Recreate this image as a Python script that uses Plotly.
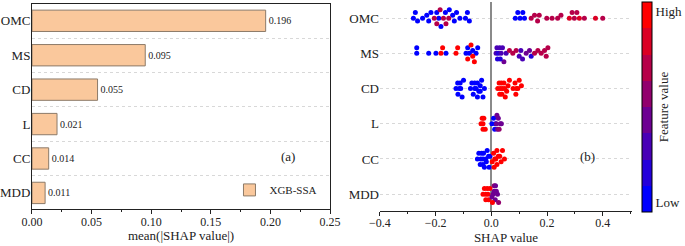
import plotly.graph_objects as go

# ---------------- data ----------------
features = ["MDD", "CC", "L", "CD", "MS", "OMC"]          # bottom -> top
mean_abs_shap = [0.011, 0.014, 0.021, 0.055, 0.095, 0.196]
bar_labels = ["0.011", "0.014", "0.021", "0.055", "0.095", "0.196"]
x1_ticks = [0.00, 0.05, 0.10, 0.15, 0.20, 0.25]
x2_ticks = [-0.4, -0.2, 0.0, 0.2, 0.4]

omc_shap = [-0.280, -0.273, -0.265, -0.247, -0.232, -0.225, -0.217, -0.196, -0.189, -0.181,
            -0.165, -0.151, -0.139, -0.133, -0.125, -0.113, -0.093, -0.086, -0.079,
            -0.205, -0.196, -0.184, -0.172, -0.163, -0.153,
            0.086, 0.095, 0.103, 0.113, 0.119,
            0.143, 0.155, 0.166, 0.172, 0.199, 0.218, 0.238, 0.250, 0.280, 0.290,
            0.298, 0.307, 0.316, 0.334, 0.374, 0.400]
omc_feat = [0.02, 0.02, 0.02, 0.02, 0.02, 0.02, 0.02, 0.02, 0.02, 0.02,
            0.02, 0.02, 0.02, 0.02, 0.02, 0.02, 0.02, 0.02, 0.02,
            0.72, 0.72, 0.72, 0.72, 0.72, 0.72,
            0.05, 0.05, 0.05, 0.05, 0.05,
            0.68, 0.72, 0.70, 0.72, 0.72, 0.70, 0.72, 0.70, 0.75, 0.72,
            0.70, 0.72, 0.75, 0.70, 0.78, 0.72]

ms_shap = [-0.268, -0.268, -0.225, -0.199, -0.163, -0.091, -0.085, -0.079, -0.067, -0.055, -0.049,
           -0.181, -0.175, -0.127, -0.121, -0.085, -0.073, -0.067, -0.061,
           0.017, 0.020, 0.025, 0.030, 0.035, 0.040, 0.045, 0.053, 0.022, 0.032,
           0.065, 0.077, 0.089,
           0.100, 0.106, 0.112, 0.125, 0.137, 0.143,
           0.155, 0.167, 0.179, 0.191, 0.197, 0.203]
ms_feat = [0.02, 0.02, 0.02, 0.02, 0.02, 0.02, 0.02, 0.02, 0.02, 0.02, 0.02,
           0.97, 0.97, 0.97, 0.97, 0.97, 0.97, 0.97, 0.97,
           0.25, 0.30, 0.20, 0.35, 0.30, 0.25, 0.40, 0.30, 0.20, 0.15,
           0.70, 0.65, 0.70,
           0.30, 0.25, 0.35, 0.45, 0.40, 0.20,
           0.70, 0.72, 0.70, 0.72, 0.70, 0.72]

cd_shap = [-0.127, -0.121, -0.115, -0.110, -0.105, -0.100, -0.120, -0.112,
           -0.075, -0.070, -0.065, -0.060, -0.055, -0.050, -0.045, -0.040, -0.035, -0.030,
           -0.025, -0.060, -0.050, -0.040,
           0.023, 0.028, 0.032, 0.036, 0.040, 0.045, 0.050, 0.055, 0.060, 0.065,
           0.030, 0.038, 0.048, 0.078, 0.085, 0.090, 0.095, 0.100, 0.108, 0.088]
cd_feat = [0.02, 0.02, 0.02, 0.02, 0.02, 0.02, 0.02, 0.02,
           0.02, 0.02, 0.02, 0.02, 0.02, 0.02, 0.02, 0.02, 0.02, 0.02,
           0.02, 0.02, 0.02, 0.02,
           0.97, 0.97, 0.97, 0.97, 0.97, 0.97, 0.97, 0.97, 0.97, 0.97,
           0.97, 0.97, 0.97, 0.97, 0.97, 0.97, 0.97, 0.97, 0.97, 0.97]

l_shap = [-0.037, -0.033, -0.030, -0.027, -0.022, -0.030,
          0.002, 0.008, 0.012, 0.015,
          0.018, 0.022, 0.025, 0.028, 0.032, 0.036, 0.020]
l_feat = [0.97, 0.97, 0.97, 0.97, 0.97, 0.97,
          0.02, 0.02, 0.02, 0.05,
          0.40, 0.45, 0.40, 0.50, 0.45, 0.40, 0.45]

cc_shap = [-0.050, -0.045, -0.040, -0.035, -0.030, -0.025, -0.020, -0.015, -0.010, -0.005,
           -0.038, -0.028, -0.018, -0.008, -0.030,
           0.003, 0.008, 0.012, 0.016, 0.020, 0.025, 0.030, 0.035, 0.040, 0.047, 0.010, 0.020]
cc_feat = [0.02, 0.02, 0.02, 0.02, 0.02, 0.02, 0.02, 0.02, 0.02, 0.02,
           0.02, 0.02, 0.02, 0.02, 0.02,
           0.97, 0.97, 0.97, 0.97, 0.97, 0.97, 0.97, 0.97, 0.97, 0.97, 0.97, 0.97]

mdd_shap = [-0.030, -0.025, -0.020, -0.015, -0.010, -0.005, -0.020, -0.012,
            0.002, 0.006, 0.010, 0.014, 0.018, 0.022, 0.026, 0.010, 0.015, 0.004]
mdd_feat = [0.97, 0.97, 0.97, 0.97, 0.97, 0.97, 0.97, 0.97,
            0.45, 0.40, 0.50, 0.45, 0.40, 0.45, 0.50, 0.40, 0.45, 0.90]

swarm = {"MDD": (mdd_shap, mdd_feat), "CC": (cc_shap, cc_feat), "L": (l_shap, l_feat),
         "CD": (cd_shap, cd_feat), "MS": (ms_shap, ms_feat), "OMC": (omc_shap, omc_feat)}

# ---------------- beeswarm layout (deterministic) ----------------
PX_PER_X = 277.5      # px per SHAP unit on the right panel
PX_PER_ROW = 35.2     # px per category step
DIAM = 4.2
STEP = 2.8
MAXK = 3


def beeswarm(xs):
    order = sorted(range(len(xs)), key=lambda i: xs[i])
    placed = []
    offs = [0.0] * len(xs)
    for i in order:
        px = xs[i] * PX_PER_X
        cands = [0.0]
        for k in range(1, MAXK + 1):
            cands += [k * STEP, -k * STEP]
        best, best_c = 0.0, None
        for c in cands:
            n = sum(1 for (qx, qy) in placed if (qx - px) ** 2 + (qy - c) ** 2 < DIAM ** 2)
            if n == 0:
                best = c
                best_c = 0
                break
            if best_c is None or n < best_c:
                best, best_c = c, n
        placed.append((px, best))
        offs[i] = best / PX_PER_ROW
    return offs


sx, sy, sc = [], [], []
for idx, f in enumerate(features):
    xs, fv = swarm[f]
    offs = beeswarm(xs)
    for x, o, c in zip(xs, offs, fv):
        sx.append(x)
        sy.append(idx + o)
        sc.append(c)

# discrete blue->red scale, 8 bands
NB = 8
bands = []
for i in range(NB):
    t = i / (NB - 1)
    bands.append(f"rgb({int(round(255 * t))},0,{int(round(255 * (1 - t)))})")
cscale = []
for i, c in enumerate(bands):
    cscale.append([i / NB, c])
    cscale.append([(i + 1) / NB, c])

FONT = "Liberation Serif"
ypos = list(range(len(features)))

fig = go.Figure()
fig.add_trace(go.Bar(
    x=mean_abs_shap, y=ypos, orientation="h", name="XGB-SSA",
    marker=dict(color="#FAC89C", line=dict(color="#8C7A68", width=1)),
    width=0.62, text=bar_labels, textposition="outside", cliponaxis=False,
    textfont=dict(family=FONT, size=10, color="#222"),
    xaxis="x", yaxis="y", showlegend=True,
))
fig.add_trace(go.Scatter(
    x=sx, y=sy, mode="markers", xaxis="x2", yaxis="y2", showlegend=False,
    marker=dict(size=5, color=sc, colorscale=cscale, cmin=0, cmax=1,
                showscale=True,
                colorbar=dict(x=0.937, xanchor="left", xpad=0, ypad=0,
                              y=0.565, yanchor="middle",
                              len=0.854, lenmode="fraction", thickness=10,
                              outlinewidth=1, outlinecolor="black",
                              tickvals=[0.045, 0.955], ticktext=["Low", "High"],
                              ticks="", ticklabelposition="outside",
                              tickfont=dict(family=FONT, size=13, color="#222")),
                line=dict(width=0)),
))

axis_font = dict(family=FONT, size=12, color="#222")
fig.update_layout(
    width=685, height=246, margin=dict(l=0, r=0, t=0, b=0, autoexpand=False),
    paper_bgcolor="white", plot_bgcolor="white",
    font=dict(family=FONT, size=12, color="#222"),
    bargap=0.38,
    xaxis=dict(domain=[0.0467, 0.4818], range=[0, 0.25], tickvals=x1_ticks,
               ticktext=[f"{v:.2f}" for v in x1_ticks], tickfont=axis_font,
               showline=True, linecolor="#222", linewidth=1, mirror=True,
               ticks="outside", ticklen=4, tickcolor="#222", ticklabelstandoff=-3,
               minor=dict(ticks="outside", ticklen=2, dtick=0.025, tick0=0, tickcolor="#222"),
               showgrid=False, zeroline=False, automargin=False,
               title=dict(text="mean(|SHAP value|)", font=dict(family=FONT, size=13), standoff=2),
               anchor="y"),
    yaxis=dict(domain=[0.150, 0.984], range=[-0.47, 5.49], tickvals=ypos, ticktext=features,
               tickfont=dict(family=FONT, size=13, color="#222"), ticklabelstandoff=-2,
               showline=True, linecolor="#222", linewidth=1, mirror=True,
               ticks="", showgrid=False, zeroline=False, automargin=False,
               minor=dict(showgrid=True, gridcolor="#d8d8d8", griddash="dot", gridwidth=1,
                          tick0=0.5, dtick=1),
               anchor="x"),
    xaxis2=dict(domain=[0.5547, 0.9226], range=[-0.4, 0.505], tickvals=x2_ticks,
                ticktext=["\u22120.4", "\u22120.2", "0.0", "0.2", "0.4"], tickfont=axis_font,
                showline=True, linecolor="#222", linewidth=1, mirror=False,
                ticks="outside", ticklen=4, tickcolor="#222", ticklabelstandoff=-3,
                minor=dict(ticks="outside", ticklen=2, dtick=0.1, tick0=0, tickcolor="#222"),
                showgrid=False, zeroline=True, zerolinecolor="#8a8a8a", zerolinewidth=2,
                automargin=False,
                title=dict(text="SHAP value", font=dict(family=FONT, size=13), standoff=2),
                anchor="y2"),
    yaxis2=dict(domain=[0.142, 0.992], range=[-0.48, 5.46], tickvals=ypos, ticktext=features,
                tickfont=dict(family=FONT, size=13, color="#222"),
                showline=False, ticks="", showgrid=True, gridcolor="#d8d8d8", griddash="dot",
                gridwidth=1, zeroline=False, automargin=False, anchor="x2"),
    legend=dict(x=0.335, y=0.228, xanchor="left", yanchor="middle",
                bgcolor="rgba(0,0,0,0)", font=dict(family=FONT, size=11, color="#222"),
                itemwidth=30),
    annotations=[
        dict(text="(a)", x=0.421, y=0.325, xref="paper", yref="paper", showarrow=False,
             font=dict(family=FONT, size=13, color="#222")),
        dict(text="(b)", x=0.872, y=0.325, xref="paper", yref="paper", showarrow=False,
             font=dict(family=FONT, size=13, color="#222")),
        dict(text="Feature value", x=0.982, y=0.565, xref="paper", yref="paper",
             showarrow=False, textangle=-90,
             font=dict(family=FONT, size=13, color="#222")),
    ],
)

fig.write_html("out.html", config={"displayModeBar": False},
               post_script="document.body.style.margin='0';")
